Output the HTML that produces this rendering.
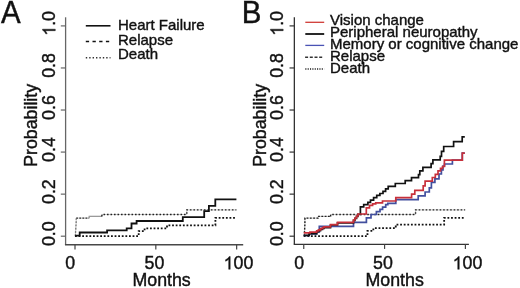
<!DOCTYPE html><html><head><meta charset="utf-8"><style>html,body{margin:0;padding:0;background:#fff;}svg{display:block;will-change:transform;filter:blur(0.35px);} text{stroke:#111;stroke-width:0.4px;} .one{stroke:#111;}</style></head><body>
<svg width="520" height="288" viewBox="0 0 520 288" font-family="Liberation Sans, sans-serif" fill="#111">
<text transform="translate(1,22.6) scale(1,1.045)" font-size="29.5">A</text>
<text transform="translate(241.8,22.6) scale(1,1.045)" font-size="29.5">B</text>
<path d="M65.60,17.3 V244.8" fill="none" stroke="#666" stroke-width="1.3"/>
<path d="M64.95,244.8 H243.2" fill="none" stroke="#484848" stroke-width="1.4"/>
<line x1="60.80" y1="236.20" x2="65.60" y2="236.20" stroke="#666" stroke-width="1.2"/>
<g transform="translate(55.30,233.70) rotate(-90)"><text x="-12.372" y="0" font-size="17.8">0</text><text x="-2.473" y="0" font-size="17.8">.</text><text x="2.473" y="0" font-size="17.8">0</text></g>
<line x1="60.80" y1="194.14" x2="65.60" y2="194.14" stroke="#666" stroke-width="1.2"/>
<g transform="translate(55.30,191.64) rotate(-90)"><text x="-12.372" y="0" font-size="17.8">0</text><text x="-2.473" y="0" font-size="17.8">.</text><text x="2.473" y="0" font-size="17.8">2</text></g>
<line x1="60.80" y1="152.08" x2="65.60" y2="152.08" stroke="#666" stroke-width="1.2"/>
<g transform="translate(55.30,149.58) rotate(-90)"><text x="-12.372" y="0" font-size="17.8">0</text><text x="-2.473" y="0" font-size="17.8">.</text><text x="2.473" y="0" font-size="17.8">4</text></g>
<line x1="60.80" y1="110.02" x2="65.60" y2="110.02" stroke="#666" stroke-width="1.2"/>
<g transform="translate(55.30,107.52) rotate(-90)"><text x="-12.372" y="0" font-size="17.8">0</text><text x="-2.473" y="0" font-size="17.8">.</text><text x="2.473" y="0" font-size="17.8">6</text></g>
<line x1="60.80" y1="67.96" x2="65.60" y2="67.96" stroke="#666" stroke-width="1.2"/>
<g transform="translate(55.30,65.46) rotate(-90)"><text x="-12.372" y="0" font-size="17.8">0</text><text x="-2.473" y="0" font-size="17.8">.</text><text x="2.473" y="0" font-size="17.8">8</text></g>
<line x1="60.80" y1="25.90" x2="65.60" y2="25.90" stroke="#666" stroke-width="1.2"/>
<g transform="translate(55.30,23.40) rotate(-90)"><path class="one" stroke-width="46.02" transform="translate(-12.372,0) scale(0.00869,-0.00869)" d="M763,0 L583,0 L583,1147 Q518,1085 412,1023 Q306,961 222,930 L222,1104 Q373,1175 486,1276 Q599,1377 646,1472 L763,1472 Z"/><text x="-2.473" y="0" font-size="17.8">.</text><text x="2.473" y="0" font-size="17.8">0</text></g>
<line x1="75.00" y1="244.8" x2="75.00" y2="249.40" stroke="#444" stroke-width="1.2"/>
<line x1="155.82" y1="244.8" x2="155.82" y2="249.40" stroke="#444" stroke-width="1.2"/>
<line x1="236.65" y1="244.8" x2="236.65" y2="249.40" stroke="#444" stroke-width="1.2"/>
<g transform="translate(70.30,269.30)"><text x="-4.950" y="0" font-size="17.8">0</text></g>
<g transform="translate(154.50,269.30)"><text x="-9.900" y="0" font-size="17.8">5</text><text x="0.000" y="0" font-size="17.8">0</text></g>
<g transform="translate(238.45,269.30)"><path class="one" stroke-width="46.02" transform="translate(-14.849,0) scale(0.00869,-0.00869)" d="M763,0 L583,0 L583,1147 Q518,1085 412,1023 Q306,961 222,930 L222,1104 Q373,1175 486,1276 Q599,1377 646,1472 L763,1472 Z"/><text x="-4.950" y="0" font-size="17.8">0</text><text x="4.950" y="0" font-size="17.8">0</text></g>
<text x="161.60" y="286.2" text-anchor="middle" font-size="17.8">Months</text>
<text transform="translate(37.00,125.35) rotate(-90)" text-anchor="middle" font-size="17.8">Probability</text>
<path d="M294.35,17.3 V244.35" fill="none" stroke="#333" stroke-width="1.3"/>
<path d="M293.70,244.35 H468.9" fill="none" stroke="#333" stroke-width="1.4"/>
<line x1="289.55" y1="236.20" x2="294.35" y2="236.20" stroke="#333" stroke-width="1.2"/>
<g transform="translate(283.20,233.70) rotate(-90)"><text x="-12.372" y="0" font-size="17.8">0</text><text x="-2.473" y="0" font-size="17.8">.</text><text x="2.473" y="0" font-size="17.8">0</text></g>
<line x1="289.55" y1="194.14" x2="294.35" y2="194.14" stroke="#333" stroke-width="1.2"/>
<g transform="translate(283.20,191.64) rotate(-90)"><text x="-12.372" y="0" font-size="17.8">0</text><text x="-2.473" y="0" font-size="17.8">.</text><text x="2.473" y="0" font-size="17.8">2</text></g>
<line x1="289.55" y1="152.08" x2="294.35" y2="152.08" stroke="#333" stroke-width="1.2"/>
<g transform="translate(283.20,149.58) rotate(-90)"><text x="-12.372" y="0" font-size="17.8">0</text><text x="-2.473" y="0" font-size="17.8">.</text><text x="2.473" y="0" font-size="17.8">4</text></g>
<line x1="289.55" y1="110.02" x2="294.35" y2="110.02" stroke="#333" stroke-width="1.2"/>
<g transform="translate(283.20,107.52) rotate(-90)"><text x="-12.372" y="0" font-size="17.8">0</text><text x="-2.473" y="0" font-size="17.8">.</text><text x="2.473" y="0" font-size="17.8">6</text></g>
<line x1="289.55" y1="67.96" x2="294.35" y2="67.96" stroke="#333" stroke-width="1.2"/>
<g transform="translate(283.20,65.46) rotate(-90)"><text x="-12.372" y="0" font-size="17.8">0</text><text x="-2.473" y="0" font-size="17.8">.</text><text x="2.473" y="0" font-size="17.8">8</text></g>
<line x1="289.55" y1="25.90" x2="294.35" y2="25.90" stroke="#333" stroke-width="1.2"/>
<g transform="translate(283.20,23.40) rotate(-90)"><path class="one" stroke-width="46.02" transform="translate(-12.372,0) scale(0.00869,-0.00869)" d="M763,0 L583,0 L583,1147 Q518,1085 412,1023 Q306,961 222,930 L222,1104 Q373,1175 486,1276 Q599,1377 646,1472 L763,1472 Z"/><text x="-2.473" y="0" font-size="17.8">.</text><text x="2.473" y="0" font-size="17.8">0</text></g>
<line x1="303.75" y1="244.35" x2="303.75" y2="248.95" stroke="#444" stroke-width="1.2"/>
<line x1="384.57" y1="244.35" x2="384.57" y2="248.95" stroke="#444" stroke-width="1.2"/>
<line x1="465.40" y1="244.35" x2="465.40" y2="248.95" stroke="#444" stroke-width="1.2"/>
<g transform="translate(299.20,269.30)"><text x="-4.950" y="0" font-size="17.8">0</text></g>
<g transform="translate(383.00,269.30)"><text x="-9.900" y="0" font-size="17.8">5</text><text x="0.000" y="0" font-size="17.8">0</text></g>
<g transform="translate(467.50,269.30)"><path class="one" stroke-width="46.02" transform="translate(-14.849,0) scale(0.00869,-0.00869)" d="M763,0 L583,0 L583,1147 Q518,1085 412,1023 Q306,961 222,930 L222,1104 Q373,1175 486,1276 Q599,1377 646,1472 L763,1472 Z"/><text x="-4.950" y="0" font-size="17.8">0</text><text x="4.950" y="0" font-size="17.8">0</text></g>
<text x="394.70" y="286.2" text-anchor="middle" font-size="17.8">Months</text>
<text transform="translate(266.00,125.35) rotate(-90)" text-anchor="middle" font-size="17.8">Probability</text>
<line x1="85.8" y1="25.8" x2="110.5" y2="25.8" stroke="#111" stroke-width="1.6"/>
<line x1="85.8" y1="41.5" x2="110.5" y2="41.5" stroke="#111" stroke-width="1.5" stroke-dasharray="3.3 3.4"/>
<line x1="85.8" y1="57.7" x2="110.5" y2="57.7" stroke="#333" stroke-width="1.5" stroke-dasharray="1.4 2"/>
<g font-size="15"><text x="118" y="30.3">Heart Failure</text><text x="118" y="44.9">Relapse</text><text x="118" y="59.4">Death</text></g>
<line x1="305.3" y1="22.3" x2="324.2" y2="22.3" stroke="#d03a35" stroke-width="1.3"/>
<line x1="305.3" y1="34" x2="324.2" y2="34" stroke="#111" stroke-width="1.8"/>
<line x1="305.3" y1="45.4" x2="324.2" y2="45.4" stroke="#4a53b4" stroke-width="1.3"/>
<line x1="305.1" y1="57.2" x2="323.3" y2="57.2" stroke="#333" stroke-width="1.4" stroke-dasharray="3 1.7"/>
<line x1="305.3" y1="69.1" x2="324.2" y2="69.1" stroke="#1a1a1a" stroke-width="1.5" stroke-dasharray="1.1 1.25"/>
<g font-size="15"><text x="330" y="25.1">Vision change</text><text x="330" y="37">Peripheral neuropathy</text><text x="330" y="48.85">Memory or cognitive change</text><text x="330" y="60.7">Relapse</text><text x="330" y="72.5">Death</text></g>
<path d="M75.3,236.2 L76.2,222 V218.1 H89.2 V216.4 H101.9 V214.5 H186.8 V209.9 H236.4" fill="none" stroke="#c8c8c8" stroke-width="1"/>
<path d="M75.3,236.2 L76.2,222 V218.6" fill="none" stroke="#777" stroke-width="1.3" stroke-dasharray="1.8 1.5"/>
<path d="M76.2,218.1 H89.2" fill="none" stroke="#333" stroke-width="1.4" stroke-dasharray="1.8 1.3"/>
<path d="M89.2,218.1 V216.4 H101.9" fill="none" stroke="#9a9a9a" stroke-width="1.2"/>
<path d="M101.9,216.4 V214.5 H186.8 V209.9 H236.4" fill="none" stroke="#222" stroke-width="1.4" stroke-dasharray="1.6 1.9"/>
<path d="M75.00,236.2 H138.70 V231.1 H144.60 V228.4 H167.00 V225.3 H215.40 V217.9 H236.40" fill="none" stroke="#111" stroke-width="1.8" stroke-dasharray="1.8 1.8"/>
<path d="M75,235.6 H79.7 V232.5 H107.1 V230.4 H126.7 V228.3 H131.5 V223.5 H136.6 V221 H182.8 V217.2 H204.2 V211.1 H208.9 V205.9 H215.3 V199.3 H236.4" fill="none" stroke="#111" stroke-width="1.8"/>
<path d="M304.3,236.2 L304.9,224 V218.1 H317.95 V216.4 H330.65 V214.5 H415.55 V209.9 H465.15" fill="none" stroke="#c8c8c8" stroke-width="1"/>
<path d="M304.3,236.2 L304.9,224 V218.1 H317.95 V216.4 H330.65" fill="none" stroke="#222" stroke-width="1.4" stroke-dasharray="1.8 1.5"/>
<path d="M330.65,216.4 V214.5 H415.55 V209.9 H465.15" fill="none" stroke="#222" stroke-width="1.4" stroke-dasharray="1.6 1.9"/>
<path d="M303.75,236.2 H367.45 V230.9 H373.35 V228.2 H395.75 V224.6 H444.15 V217.9 H465.15" fill="none" stroke="#111" stroke-width="1.8" stroke-dasharray="1.8 1.8"/>
<path d="M303.75,235.5 H309.2 V233.8 H316.7 V231.8 H319.3 V226.4 H353.5 V222.4 H366.4 V217.8 H371 V214.5 H376.4 V211.6 H380 V209.3 H382.6 V207.2 H385.7 V204.6 H387.8 V203.3 H395.8 V199.6 H418.2 V195.8 H425.1 V192 H429.3 V187.9 H431.4 V182.4 H434.9 V178.9 H439 V174 H441.4 V169.9 H443 V166 H444.5 V164 H452.4 V160.2 H462.3 V153.2 H464.8" fill="none" stroke="#424f9e" stroke-width="1.7"/>
<path d="M303.75,235.3 H309.2 V233.6 H316.7 V231.6 H318.5 V230.6 H320.5 V229.4 H322.5 V228.4 H324 V227.6 H330.5 V225 H337.5 V222.8 H353.5 V220.3 H355 V218.3 H356.5 V216.3 H358 V214.3 H360.4 V206.8 H363.7 V204.7 H367.9 V202.3 H370.5 V200.2 H373.6 V197.6 H376.75 V195.3 H379.9 V193.5 H383 V191.4 H385.6 V188.8 H388.2 V186.4 H395.3 V183.5 H405.2 V180.6 H411.5 V177.7 H418.5 V174.6 H419.8 V170.9 H422.9 V167.3 H431.1 V163.6 H432.9 V159.9 H440.2 V156.3 H441.5 V151.4 H443.7 V146.5 H453.6 V141.7 H462.2 V136.8 H464.8" fill="none" stroke="#111" stroke-width="1.7"/>
<path d="M303.75,232.8 H310 V232.2 H316.7 V230.8 H318.5 V229.8 H320.5 V228.6 H322.5 V227.6 H324 V226.9 H330.5 V224.6 H337.5 V222.4 H353.5 V220 H355 V218 H356.5 V216 H358 V214 H366.3 V207.8 H369.5 V205.4 H372.6 V203.9 H375.7 V202.8 H382.5 V201 H395.8 V197.7 H411.6 V194.2 H414.8 V190.4 H423.2 V185.8 H425.1 V181.2 H432.3 V177.5 H435.3 V174.4 H438 V170.8 H440.5 V168.3 H442.5 V166.5 H444.4 V160.2 H462.3 V153.2 H464.8" fill="none" stroke="#c8303a" stroke-width="1.7"/>
</svg></body></html>
